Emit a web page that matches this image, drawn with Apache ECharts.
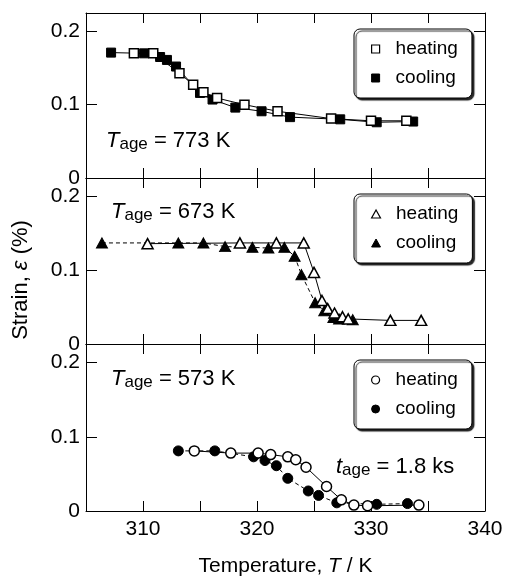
<!DOCTYPE html>
<html>
<head>
<meta charset="utf-8">
<script src="https://cdn.jsdelivr.net/npm/echarts@6/dist/echarts.min.js"></script>
<style>
  html, body { margin: 0; padding: 0; background: #fff; }
  #chart { width: 507px; height: 579px; }
</style>
</head>
<body>
<div id="chart"></div>
<script>
// T_age = 773 K
const heat773T = [309.2, 310.9, 313.2, 314.4, 315.3, 316.5, 318.9, 321.8, 326.5, 330.0, 333.1]
const heat773S = [0.170, 0.170, 0.143, 0.127, 0.117, 0.109, 0.100, 0.091, 0.081, 0.078, 0.078]
const cool773T = [307.2, 310.1, 311.5, 312.1, 312.9, 315.0, 316.1, 318.1, 320.4, 322.9, 327.3, 330.5, 333.7]
const cool773S = [0.171, 0.170, 0.165, 0.161, 0.152, 0.116, 0.107, 0.096, 0.091, 0.083, 0.080, 0.076, 0.077]

// T_age = 673 K
const heat673T = [310.4, 318.5, 321.7, 324.1, 325.0, 325.7, 326.2, 326.8, 327.5, 328.0, 331.7, 334.4]
const heat673S = [0.136, 0.137, 0.137, 0.137, 0.097, 0.059, 0.048, 0.042, 0.037, 0.034, 0.032, 0.032]
const cool673T = [306.4, 313.1, 315.3, 317.2, 319.6, 321.0, 322.4, 323.3, 323.9, 325.1, 325.9, 326.7, 327.2, 328.4]
const cool673S = [0.137, 0.137, 0.137, 0.132, 0.131, 0.130, 0.131, 0.119, 0.094, 0.056, 0.045, 0.036, 0.034, 0.033]

// T_age = 573 K
const heat573T = [314.5, 317.7, 320.1, 321.2, 322.7, 323.4, 324.3, 326.1, 327.4, 328.5, 329.7, 334.2]
const heat573S = [0.081, 0.078, 0.078, 0.076, 0.073, 0.069, 0.059, 0.033, 0.015, 0.008, 0.007, 0.008]
const cool573T = [313.1, 316.3, 319.7, 320.7, 321.7, 322.7, 324.5, 325.4, 327.0, 330.5, 333.2]
const cool573S = [0.081, 0.081, 0.073, 0.068, 0.061, 0.044, 0.027, 0.021, 0.011, 0.009, 0.010]

const xTicks = [310, 320, 330, 340]
const yTicks = [0, 0.1, 0.2]

const FONT = 'Liberation Sans, Arial, sans-serif'
const pairs = (xs, ys) => xs.map((x, i) => [x, ys[i]])

const panels = [
  { age: '773', shape: 'rect', icon: 'path://M0,0L10,0L10,10L0,10Z', size: 9, coolDash: 'solid',
    heat: pairs(heat773T, heat773S), cool: pairs(cool773T, cool773S), top: 13, height: 165, legendTop: 29 },
  { age: '673', shape: 'triangle', icon: 'path://M5,0L10,9L0,9Z', size: [11, 10], coolDash: [4, 3],
    heat: pairs(heat673T, heat673S), cool: pairs(cool673T, cool673S), top: 178, height: 166, legendTop: 194 },
  { age: '573', shape: 'circle', icon: 'circle', size: 10, coolDash: [4, 3],
    heat: pairs(heat573T, heat573S), cool: pairs(cool573T, cool573S), top: 344, height: 167, legendTop: 360 }
]

const chart = echarts.init(document.getElementById('chart'))

const grid = []
const xAxis = []
const yAxis = []
const series = []
const legend = []

panels.forEach((p, i) => {
  grid.push({ left: 86, right: 22, top: p.top, height: p.height })
  const last = i === panels.length - 1
  ;['bottom', 'top'].forEach(pos => {
    xAxis.push({
      gridIndex: i,
      type: 'value',
      position: pos,
      min: 305,
      max: 340,
      interval: 5,
      axisLine: { onZero: false, lineStyle: { color: '#000', width: 1 } },
      axisTick: { inside: true, length: 10, lineStyle: { color: '#000', width: 1 } },
      axisLabel: {
        show: last && pos === 'bottom',
        margin: 8,
        fontSize: 21,
        color: '#000',
        fontFamily: FONT,
        formatter: v => (xTicks.indexOf(v) >= 0 ? String(v) : '')
      },
      splitLine: { show: false },
      name: last && pos === 'bottom' ? '{n|Temperature, }{i|T}{n| / K}' : '',
      nameLocation: 'middle',
      nameGap: 45,
      nameTextStyle: {
        rich: {
          n: { fontSize: 21, fontFamily: FONT, color: '#000' },
          i: { fontSize: 21, fontFamily: FONT, color: '#000', fontStyle: 'italic' }
        }
      }
    })
  })
  ;['left', 'right'].forEach(pos => {
    yAxis.push({
      gridIndex: i,
      type: 'value',
      position: pos,
      min: 0,
      max: 0.225,
      interval: 0.1,
      axisLine: { show: true, onZero: false, lineStyle: { color: '#000', width: 1 } },
      axisTick: { show: true, inside: true, length: 11, lineStyle: { color: '#000', width: 1 } },
      axisLabel: {
        show: pos === 'left',
        margin: 6,
        fontSize: 21,
        color: '#000',
        fontFamily: FONT,
        formatter: v => {
          const hit = yTicks.find(t => Math.abs(t - v) < 1e-6)
          return hit === undefined ? '' : String(hit)
        }
      },
      splitLine: { show: false }
    })
  })

  const base = { type: 'line', xAxisIndex: i * 2, yAxisIndex: i * 2, symbol: p.shape, symbolSize: p.size, showSymbol: true }
  series.push(Object.assign({}, base, {
    name: 'cooling ' + p.age,
    data: p.cool,
    lineStyle: { color: '#000', width: 1, type: p.coolDash },
    itemStyle: { color: '#000', borderColor: '#000', borderWidth: 1 }
  }))
  series.push(Object.assign({}, base, {
    name: 'heating ' + p.age,
    data: p.heat,
    lineStyle: { color: '#000', width: 1, type: 'solid' },
    itemStyle: { color: '#fff', borderColor: '#000', borderWidth: 1.5 }
  }))

  legend.push({
    orient: 'vertical',
    left: 354,
    top: p.legendTop,
    padding: [9, 14, 9, 17],
    itemGap: 7,
    itemWidth: 30,
    itemHeight: 8,
    backgroundColor: '#fff',
    borderColor: '#000',
    borderWidth: 1,
    borderRadius: 6,
    shadowColor: 'rgba(0,0,0,0.85)',
    shadowBlur: 1,
    shadowOffsetX: 2,
    shadowOffsetY: 2,
    selectedMode: false,
    textStyle: { fontSize: 19, lineHeight: 22, color: '#000', fontFamily: FONT },
    formatter: name => name.split(' ')[0],
    data: [
      { name: 'heating ' + p.age, icon: p.icon, itemStyle: { color: '#fff', borderColor: '#000', borderWidth: 1.2 } },
      { name: 'cooling ' + p.age, icon: p.icon, itemStyle: { color: '#000', borderColor: '#000', borderWidth: 1 } }
    ]
  })
})

const richLabel = {
  i: { fontSize: 22, fontFamily: FONT, fontStyle: 'italic', lineHeight: 24 },
  s: { fontSize: 17, fontFamily: FONT, lineHeight: 12, verticalAlign: 'bottom' },
  n: { fontSize: 22, fontFamily: FONT, lineHeight: 24 }
}
const ageText = (x, y, txt) => ({
  type: 'text', x: x, y: y,
  style: { text: txt, rich: richLabel, fill: '#000' }
})

chart.setOption({
  animation: false,
  backgroundColor: '#fff',
  grid: grid,
  xAxis: xAxis,
  yAxis: yAxis,
  legend: legend,
  series: series,
  graphic: [
    ageText(106, 129, '{i|T}{s|age}{n| = 773 K}'),
    ageText(111, 200, '{i|T}{s|age}{n| = 673 K}'),
    ageText(111, 367, '{i|T}{s|age}{n| = 573 K}'),
    ageText(336, 455, '{i|t}{s|age}{n| = 1.8 ks}'),
    {
      type: 'text', x: 21, y: 280, rotation: Math.PI / 2,
      style: {
        text: '{n|Strain, }{i|ε}{n| (%)}',
        align: 'center', verticalAlign: 'middle',
        rich: {
          n: { fontSize: 22, fontFamily: FONT },
          i: { fontSize: 22, fontFamily: FONT, fontStyle: 'italic' }
        },
        fill: '#000'
      }
    }
  ]
})
</script>
</body>
</html>
